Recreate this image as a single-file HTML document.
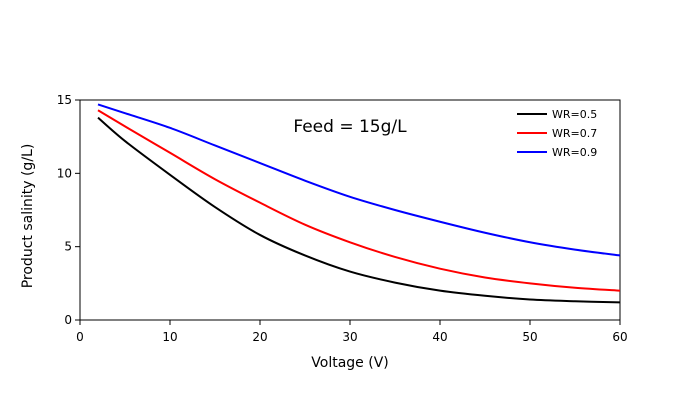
<!DOCTYPE html>
<html><head><meta charset="utf-8"><style>
body{margin:0;background:#fff;font-family:"Liberation Sans",sans-serif}
svg text{font-family:"DejaVu Sans","Liberation Sans",sans-serif}
</style></head><body>
<svg width="700" height="400">
<g id="plot"></g>
</svg>
<script>
const xVals=[2,5,10,15,20,25,30,35,40,45,50,55,60];
const wr05=[13.8,12.2,9.9,7.7,5.8,4.4,3.3,2.55,2.0,1.65,1.4,1.28,1.2];
const wr07=[14.3,13.2,11.4,9.6,8.0,6.5,5.3,4.3,3.5,2.9,2.5,2.2,2.0];
const wr09=[14.7,14.1,13.1,11.9,10.7,9.5,8.4,7.5,6.7,5.95,5.3,4.8,4.4];
const seriesNames=["WR=0.5","WR=0.7","WR=0.9"];
const xTicks=[0,10,20,30,40,50,60];
const yTicks=[0,5,10,15];
const L=80,R=620,T=100,B=320;
const sx=v=>L+(v-0)/(60-0)*(R-L);
const sy=v=>B-(v-0)/(15-0)*(B-T);
const NS="http://www.w3.org/2000/svg";
const g=document.getElementById('plot');
function mk(t,a,txt){const e=document.createElementNS(NS,t);for(const k in a)e.setAttribute(k,a[k]);if(txt!==undefined)e.textContent=txt;g.appendChild(e);return e;}
let e=mk('rect',{x:L,y:T,width:R-L,height:B-T,fill:'none',stroke:'#000','stroke-width':1});


xTicks.forEach(t=>{
 let l=mk('line',{x1:sx(t),x2:sx(t),y1:B,y2:B+5,stroke:'#000'});
 
 
 let s=mk('text',{x:sx(t),y:B+21,'text-anchor':'middle','font-size':12},t);
 
 
});
yTicks.forEach(t=>{
 let l=mk('line',{x1:L-5,x2:L,y1:sy(t),y2:sy(t),stroke:'#000'});
 
 
 let s=mk('text',{x:L-8,y:sy(t)+4,'text-anchor':'end','font-size':12},t);
 
 
});
let xt=mk('text',{x:350,y:367,'text-anchor':'middle','font-size':14},'Voltage (V)');


let yt=mk('text',{x:32,y:216,'text-anchor':'middle','font-size':14,transform:'rotate(-90 32 216)'},'Product salinity (g/L)');


let an=mk('text',{x:350,y:132,'text-anchor':'middle','font-size':17},'Feed = 15g/L');


const data=[wr05,wr07,wr09],colors=['#000','#f00','#00f'];
data.forEach((ys,i)=>{
 const d=xVals.map((x,j)=>[sx(x),sy(ys[j])]);
 let p='M'+d[0][0]+','+d[0][1];
 for(let j=0;j<d.length-1;j++){
  const p0=d[Math.max(j-1,0)],p1=d[j],p2=d[j+1],p3=d[Math.min(j+2,d.length-1)];
  p+=' C'+(p1[0]+(p2[0]-p0[0])/6)+','+(p1[1]+(p2[1]-p0[1])/6)+' '+(p2[0]-(p3[0]-p1[0])/6)+','+(p2[1]-(p3[1]-p1[1])/6)+' '+p2[0]+','+p2[1];
 }
 let path=mk('path',{d:p,fill:'none',stroke:colors[i],'stroke-width':2});
 
 
 const ly=114+i*19;
 let ll=mk('line',{x1:517,x2:547,y1:ly,y2:ly,stroke:colors[i],'stroke-width':2});
 
 
 let lt=mk('text',{x:552,y:ly+4,'font-size':11,'font-family':'Liberation Sans, sans-serif'},seriesNames[i]);
 
 
});
</script>
</body></html>
